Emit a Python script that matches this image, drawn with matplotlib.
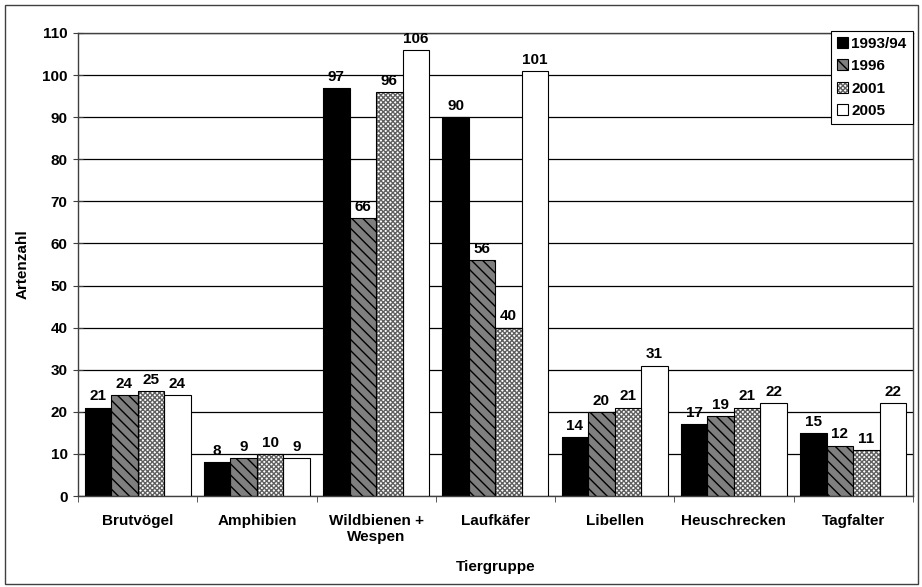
import numpy as np
import matplotlib
matplotlib.use('Agg')
import matplotlib.pyplot as plt
from matplotlib.patches import Rectangle, Patch

plt.rcParams['font.family'] = ['Liberation Sans', 'DejaVu Sans']
plt.rcParams['font.weight'] = 'bold'
plt.rcParams['font.size'] = 11
plt.rcParams['hatch.linewidth'] = 1.0

# Daten
gruppen = ['Brutvögel', 'Amphibien', 'Wildbienen +\nWespen', 'Laufkäfer',
           'Libellen', 'Heuschrecken', 'Tagfalter']
jahre = ['1993/94', '1996', '2001', '2005']
w1993 = [21, 8, 97, 90, 14, 17, 15]
w1996 = [24, 9, 66, 56, 20, 19, 12]
w2001 = [25, 10, 96, 40, 21, 21, 11]
w2005 = [24, 9, 106, 101, 31, 22, 22]
werte = [w1993, w1996, w2001, w2005]

fig = plt.figure(figsize=(9.22, 5.87), dpi=100)
ax = fig.add_axes([0.0846, 0.155, 0.9054, 0.7888])

x = np.arange(len(gruppen))
b = 1 / 4.5
off = [-1.5 * b, -0.5 * b, 0.5 * b, 1.5 * b]

#stile: (facecolor, hatch, hatchfarbe)
stile = [('black', None, 'black'),
         ('#7f7f7f', '\\\\\\', 'black'),
         ('white', 'xxxxxxx', '#606060'),
         ('white', None, 'black')]

handles = []
for i in range(4):
    fc, h, hc = stile[i]
    ax.bar(x + off[i], werte[i], b, color=fc, hatch=h, edgecolor=hc,
           linewidth=0, zorder=2)
    ax.bar(x + off[i], werte[i], b, color='none', edgecolor='black',
           linewidth=0.8, zorder=3)
    for xi, v in zip(x + off[i], werte[i]):
        ax.annotate(str(v), (xi, v), xytext=(0, 3), textcoords='offset points',
                    ha='center', va='bottom', fontsize=11, fontweight='bold')
    handles.append((Patch(facecolor=fc, hatch=h, edgecolor=hc, linewidth=0),
                    Patch(facecolor='none', edgecolor='black', linewidth=0.8)))

ax.set_xlim(-0.5, len(gruppen) - 0.5)
ax.set_ylim(0, 110)
ax.set_yticks(np.arange(0, 111, 10))
ax.yaxis.grid(True, color='black', linewidth=0.9, zorder=0)
ax.set_axisbelow(True)

ax.set_xticks(x)
ax.set_xticklabels(gruppen, fontsize=11, fontweight='bold')
ax.tick_params(axis='x', length=0, pad=13)
ax.set_xticks(np.arange(-0.5, len(gruppen), 1), minor=True)
ax.tick_params(axis='x', which='minor', direction='out', length=4, color='#404040')
ax.tick_params(axis='y', direction='inout', length=7, color='#404040', labelsize=11, pad=4)

for s in ax.spines.values():
    s.set_color('#404040')
    s.set_linewidth(1)

ax.set_ylabel('Artenzahl', fontsize=11, fontweight='bold', labelpad=9)
ax.set_xlabel('Tiergruppe', fontsize=11, fontweight='bold', labelpad=11)

leg = ax.legend(handles, jahre, loc='upper right', bbox_to_anchor=(1.0, 1.005),
                fancybox=False, framealpha=1, edgecolor='black',
                handlelength=0.7, handleheight=0.7, handletextpad=0.25,
                labelspacing=0.55, borderpad=0.4, borderaxespad=0,
                prop={'weight': 'bold', 'size': 11})
leg.get_frame().set_linewidth(0.8)
leg.set_zorder(5)

#rahmen um das ganze bild
fig.patches.append(Rectangle((5 / 922, 3 / 587), 913 / 922, 579 / 587,
                             transform=fig.transFigure, fill=False,
                             edgecolor='#404040', linewidth=1))

fig.savefig('out.png', dpi=100)
